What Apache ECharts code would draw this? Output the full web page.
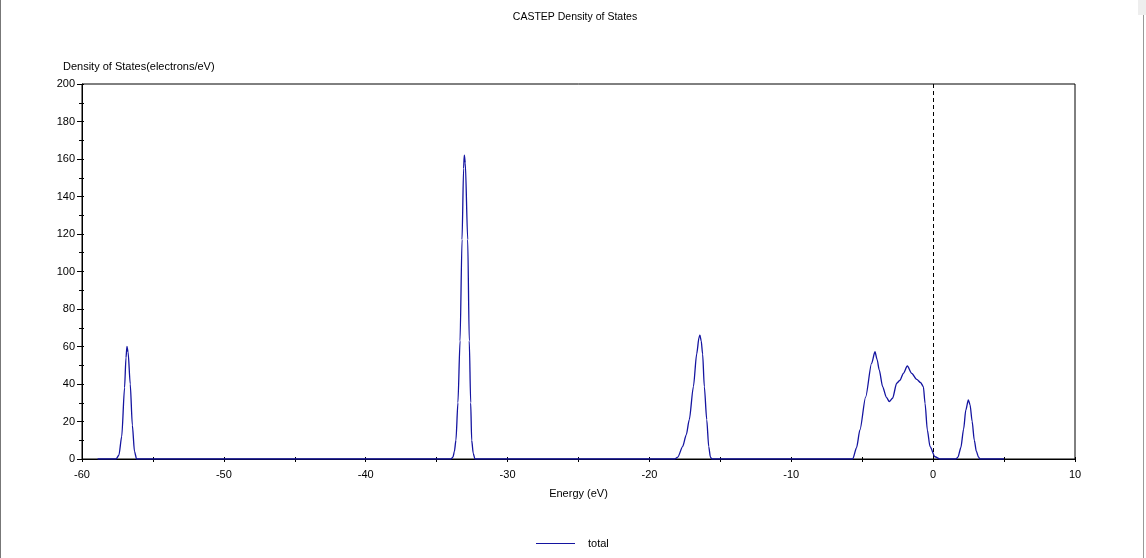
<!DOCTYPE html>
<html>
<head>
<meta charset="utf-8">
<script src="https://cdn.jsdelivr.net/npm/echarts@6/dist/echarts.min.js"></script>
<style>
html,body{margin:0;padding:0;background:#fff;}
#chart{width:1146px;height:558px;}
</style>
</head>
<body>
<div id="chart"></div>
<script>
// Energy (eV) sample points
const energy = [
  -58.9, -57.6, -57.4, -57.2, -57.0, -56.9, -56.83, -56.75, -56.6, -56.45, -56.3, -56.15,
  -34.0, -33.85, -33.75, -33.64, -33.5, -33.35, -33.21, -33.1, -33.05, -32.98, -32.81, -32.7, -32.6, -32.53, -32.42, -32.3,
  -18.2, -18.0, -17.66, -17.4, -17.19, -16.9, -16.67, -16.5, -16.44, -16.35, -16.25, -16.13, -15.96, -15.82, -15.7, -15.6,
  -5.67, -5.4, -5.16, -4.76, -4.34, -4.10, -3.95, -3.80, -3.56, -3.3, -3.09, -2.86, -2.57, -2.34, -2.10, -1.82, -1.51, -1.16, -0.88, -0.69, -0.57, -0.41, -0.22, 0.13, 0.48,
  1.6, 1.75, 1.95, 2.15, 2.3, 2.48, 2.6, 2.75, 2.9, 3.05, 3.2, 3.3, 5.0
];
// Total density of states (electrons/eV)
const totalDos = [
  0, 0, 2, 12, 38, 54, 60, 57, 40, 18, 4, 0,
  0, 1, 4, 10, 30, 63, 117, 155, 162, 158, 117, 63, 30, 10, 3, 0,
  0, 1, 6.6, 13, 21, 38.6, 56, 65, 66, 63, 56, 38.6, 21, 6.6, 1, 0,
  0, 6, 15.5, 33, 51, 57.2, 53, 47.5, 38.6, 33, 30.6, 32.4, 40.4, 42, 45.7, 49.6, 45.7, 42.5, 40.7, 38.6, 29.7, 15.5, 6.6, 1.2, 0,
  0, 1, 6, 16, 26, 31.5, 29, 20, 10, 4, 1, 0, 0
];
const seriesName = 'total';
const xRange = [-60, 10];
const yRange = [0, 200];
const fermiLevel = 0;

const points = energy.map((e, i) => [e, totalDos[i]]);
const FONT = 'Liberation Sans';
const LINE_COLOR = '#1414a0';
const txt = { color: '#000', fontSize: 11, fontFamily: FONT };

const chart = echarts.init(document.getElementById('chart'), null, { renderer: 'canvas' });
chart.setOption({
  animation: false,
  backgroundColor: '#fff',
  title: {
    text: 'CASTEP Density of States',
    left: 570, top: 7, textAlign: 'center',
    textStyle: { ...txt, fontSize: 10.5, fontWeight: 'normal' }
  },
  legend: {
    data: [{ name: seriesName, itemStyle: { color: LINE_COLOR } }],
    left: 531, top: 533,
    itemWidth: 39, itemHeight: 1,
    icon: 'rect',
    itemStyle: { color: LINE_COLOR, borderWidth: 0 },
    textStyle: { ...txt, padding: [0, 0, 0, 8] }
  },
  grid: {
    left: 82, right: 71, top: 84, bottom: 99,
    show: true, borderColor: '#000', borderWidth: 1, backgroundColor: 'transparent'
  },
  xAxis: [{
    type: 'value', min: xRange[0], max: xRange[1], interval: 5,
    name: 'Energy (eV)', nameLocation: 'middle', nameGap: 29,
    nameTextStyle: txt,
    axisLine: { show: true, onZero: false, lineStyle: { color: '#000', width: 1 } },
    axisTick: { show: true, length: 3, lineStyle: { color: '#000' } },
    axisLabel: { ...txt, margin: 10, formatter: v => (v % 10 === 0 ? String(v) : '') },
    splitLine: { show: false }
  }, {
    type: 'value', min: xRange[0], max: xRange[1], interval: 5, position: 'bottom',
    axisLine: { show: false, onZero: false },
    axisTick: { show: true, inside: true, length: 2, lineStyle: { color: '#000' } },
    axisLabel: { show: false },
    splitLine: { show: false }
  }],
  yAxis: [{
    type: 'value', min: yRange[0], max: yRange[1], interval: 20,
    name: 'Density of States(electrons/eV)', nameLocation: 'end', nameGap: 12,
    nameTextStyle: { ...txt, align: 'left', padding: [0, 0, 0, -19] },
    axisLine: { show: true, onZero: false, lineStyle: { color: '#000', width: 1 } },
    axisTick: { show: true, length: 5, lineStyle: { color: '#000' } },
    minorTick: { show: true, splitNumber: 2, length: 3, lineStyle: { color: '#000' } },
    axisLabel: { ...txt, margin: 7 },
    splitLine: { show: false }
  }, {
    type: 'value', min: yRange[0], max: yRange[1], interval: 10, position: 'left',
    axisLine: { show: false, onZero: false },
    axisTick: { show: true, inside: true, length: 2, lineStyle: { color: '#000' } },
    axisLabel: { show: false },
    splitLine: { show: false }
  }],
  series: [{
    name: seriesName,
    type: 'line',
    data: points,
    showSymbol: false,
    smooth: 0.25,
    smoothMonotone: 'x',
    z: 5,
    lineStyle: { color: LINE_COLOR, width: 1.3 },
    itemStyle: { color: LINE_COLOR },
    markLine: {
      silent: true, symbol: 'none',
      label: { show: false },
      lineStyle: { color: '#000', type: [4, 3], width: 1 },
      data: [{ xAxis: fermiLevel }]
    }
  }],
  graphic: [
    { type: 'rect', shape: { x: 0, y: 0, width: 1, height: 558 }, style: { fill: '#777' } },
    { type: 'rect', shape: { x: 1138, y: 0, width: 8, height: 15 }, style: { fill: '#eeeeee' } },
    { type: 'rect', shape: { x: 1143, y: 15, width: 1, height: 543 }, style: { fill: '#999' } }
  ]
});
</script>
</body>
</html>
